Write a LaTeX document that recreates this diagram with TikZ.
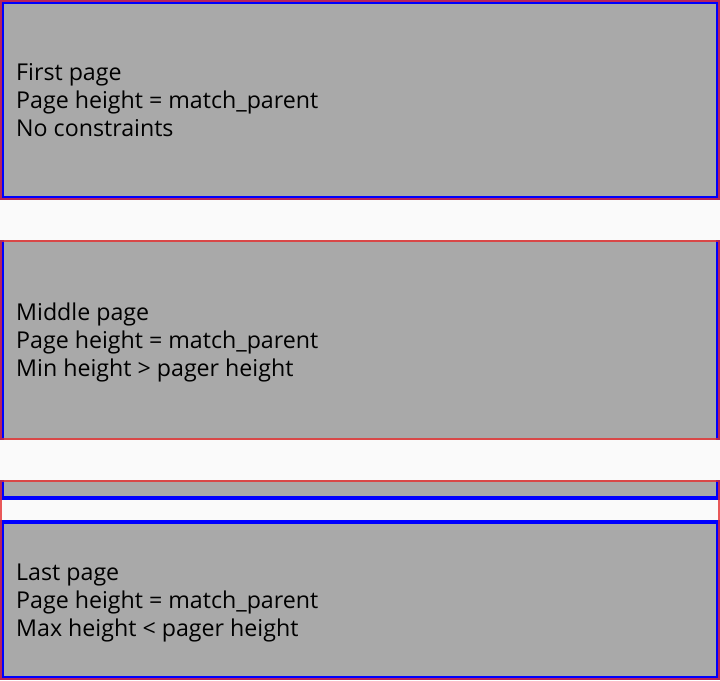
\documentclass[tikz,border=0pt]{standalone}
\usepackage{fontspec}
\setmainfont{Open Sans}
\definecolor{pagegray}{HTML}{A9A9A9}
\definecolor{bgpaper}{HTML}{FAFAFA}
\definecolor{pagerred}{HTML}{E53030}
\begin{document}
\begin{tikzpicture}[x=1pt,y=-1pt,
  page/.style={fill=pagegray,draw=blue,line width=4pt},
  gapband/.style={fill=bgpaper,draw=none},
  viewport/.style={draw=pagerred,draw opacity=0.8,line width=2pt},
  caption/.style={anchor=base west,inner sep=0pt,font=\fontsize{23.2}{28}\selectfont,text=black}]
  % background
  \fill[bgpaper] (0,0) rectangle (720,680);
  \useasboundingbox (0,0) rectangle (720,680);
  % pages (stroke kept inside each page's outline)
  \draw[page] (2,2) rectangle (718,198);
  \draw[page] (2,202) rectangle (718,498);
  \draw[page] (2,522) rectangle (718,678);
  % spaces between pager positions
  \fill[gapband] (0,200) rectangle (720,240);
  \fill[gapband] (0,440) rectangle (720,480);
  % pager viewports
  \draw[viewport] (1,1) rectangle (719,199);
  \draw[viewport] (1,241) rectangle (719,439);
  \draw[viewport] (1,481) rectangle (719,679);
  % captions
  \node[caption] (first1) at (16,80) {First page};
  \node[caption] (first2) at (16,108) {Page height = match\_parent};
  \node[caption] (first3) at (16,136) {No constraints};
  \node[caption] (mid1) at (16,320) {Middle page};
  \node[caption] (mid2) at (16,348) {Page height = match\_parent};
  \node[caption] (mid3) at (16,376) {Min height > pager height};
  \node[caption] (last1) at (16,580) {Last page};
  \node[caption] (last2) at (16,608) {Page height = match\_parent};
  \node[caption] (last3) at (16,636) {Max height < pager height};
\end{tikzpicture}
\end{document}
